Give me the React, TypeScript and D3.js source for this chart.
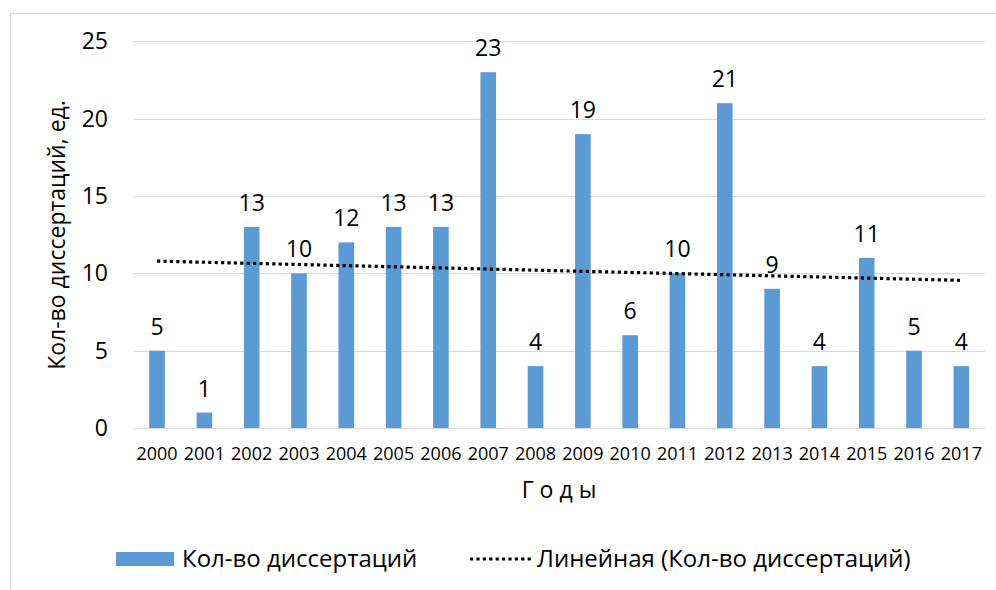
import * as d3 from "d3";

const years = [
  "2000", "2001", "2002", "2003", "2004", "2005", "2006", "2007", "2008",
  "2009", "2010", "2011", "2012", "2013", "2014", "2015", "2016", "2017",
];
const counts = [5, 1, 13, 10, 12, 13, 13, 23, 4, 19, 6, 10, 21, 9, 4, 11, 5, 4];
const yTicks = [0, 5, 10, 15, 20, 25];

const seriesName = "Кол-во диссертаций";
const trendName = "Линейная (Кол-во диссертаций)";
const yTitle = "Кол-во диссертаций, ед.";
const xTitle = "Г о д ы";

const W = 996;
const H = 590;
const FONT = "'Open Sans', sans-serif";
const BAR = "#5B9BD5";
const GRID = "#d9d9d9";

// least-squares trend over category index
function linearFit(v: number[]) {
  const n = v.length;
  const mx = (n - 1) / 2;
  const my = d3.mean(v) || 0;
  let sxy = 0;
  let sxx = 0;
  v.forEach((y, i) => {
    sxy += (i - mx) * (y - my);
    sxx += (i - mx) * (i - mx);
  });
  const slope = sxy / sxx;
  return (i: number) => my + slope * (i - mx);
}

export default function App() {
  const x = d3.scaleBand().domain(years).range([133.4, 985]).paddingInner(0).paddingOuter(0);
  const y = d3.scaleLinear().domain([0, 25]).range([428, 41.3]);
  const barW = x.bandwidth() * 0.33;
  const cx = (d: string) => (x(d) || 0) + x.bandwidth() / 2;

  const fit = linearFit(counts);
  const trend = d3
    .line<number>()
    .x((_, i) => cx(years[i]))
    .y((_, i) => y(fit(i)));

  return (
    <div style={{ position: "absolute", left: 0, top: 0 }}>
      <svg width={W} height={H} style={{ display: "block", background: "#fff" }} fontFamily={FONT}>
        <rect x={10.5} y={13.5} width={W} height={H} fill="#fff" stroke={GRID} />

        {/* gridlines */}
        {yTicks.map((t) => (
          <line key={t} x1={133.4} x2={985} y1={Math.round(y(t)) + 0.5} y2={Math.round(y(t)) + 0.5} stroke={GRID} strokeWidth={1.2} />
        ))}

        {/* y tick labels */}
        {yTicks.map((t) => (
          <text key={t} x={108} y={y(t) + 8} textAnchor="end" fontSize={23} fill="#000">
            {t}
          </text>
        ))}

        {/* bars */}
        {counts.map((v, i) => (
          <rect key={years[i]} x={cx(years[i]) - barW / 2} y={y(v)} width={barW} height={y(0) - y(v)} fill={BAR} />
        ))}

        {/* data labels */}
        {counts.map((v, i) => (
          <text key={years[i]} x={cx(years[i])} y={y(v) - 16} textAnchor="middle" fontSize={23} fill="#000">
            {v}
          </text>
        ))}

        {/* trend line */}
        <path d={trend(counts) || ""} fill="none" stroke="#000" strokeWidth={3.2} strokeDasharray="3.2,3.2" />

        {/* x tick labels */}
        {years.map((d) => (
          <text key={d} x={cx(d)} y={460} textAnchor="middle" fontSize={18} fill="#000">
            {d}
          </text>
        ))}

        {/* axis titles */}
        <text x={559} y={498} textAnchor="middle" fontSize={23} fill="#000">
          {xTitle}
        </text>
        <text transform={`translate(65,235) rotate(-90)`} textAnchor="middle" fontSize={23} fill="#000">
          {yTitle}
        </text>

        {/* legend */}
        <rect x={116} y={552} width={58} height={14} fill={BAR} />
        <text x={182} y={567} fontSize={24} fill="#000">
          {seriesName}
        </text>
        <line x1={470} x2={533} y1={559} y2={559} stroke="#000" strokeWidth={3.2} strokeDasharray="3.2,3.2" />
        <text x={537} y={567} fontSize={24} fill="#000">
          {trendName}
        </text>
      </svg>
    </div>
  );
}
